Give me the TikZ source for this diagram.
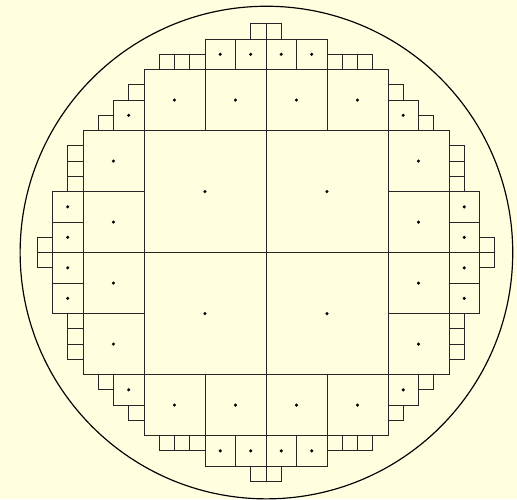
\documentclass[tikz,border=0pt]{standalone}
\usepackage{tikz,xcolor}
\definecolor{bg}{HTML}{FFFFE0}
\tikzset{
  cell/.style={draw=black!85,line width=0.75pt},
  ctr/.style={fill=black},
  rim/.style={draw=black,line width=1.1pt},
}

\begin{document}
\begin{tikzpicture}[x=5mm,y=5mm]
\fill[bg] (-17.44,-16.16) rectangle (16.46,16.56);
\useasboundingbox (-17.44,-16.16) rectangle (16.46,16.56);
% four big quadrants
\draw[cell] (-8,-8) rectangle (8,8);
\draw[cell] (-8,0) -- (8,0) (0,-8) -- (0,8);
\foreach \x in {-4,4} \foreach \y in {-4,4} \fill[ctr] (\x,\y) circle (1.6pt);
% each side and corner, turned four times
\foreach \a in {0,90,180,270} {
  \begin{scope}[rotate=\a]
    \foreach \x in {-8,-4,0,4} {
      \draw[cell] (\x,8) rectangle ++(4,4);
      \fill[ctr] (\x+2,10) circle (1.6pt);
    }
    \foreach \x in {-4,-2,0,2} {
      \draw[cell] (\x,12) rectangle ++(2,2);
      \fill[ctr] (\x+1,13) circle (1.6pt);
    }
    \foreach \x in {-1,0} \draw[cell] (\x,14) rectangle ++(1,1);
    \foreach \x in {-7,-6,-5,4,5,6} \draw[cell] (\x,12) rectangle ++(1,1);
    % corner
    \draw[cell] (-10,8) rectangle ++(2,2);
    \fill[ctr] (-9,9) circle (1.6pt);
    \draw[cell] (-9,10) rectangle ++(1,1);
    \draw[cell] (-11,8) rectangle ++(1,1);
  \end{scope}
}
\draw[rim] (0.03,0) circle (16.15);
\end{tikzpicture}
\end{document}
